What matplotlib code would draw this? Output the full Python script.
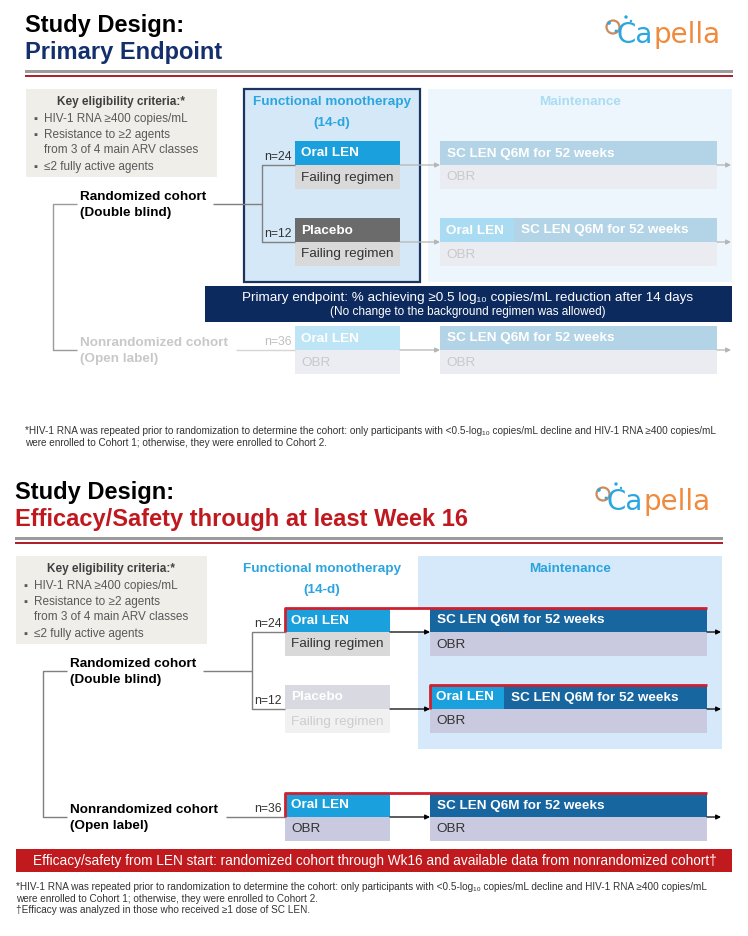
import matplotlib
matplotlib.use('Agg')
import matplotlib.pyplot as plt
from matplotlib.patches import Rectangle, Circle

plt.rcParams['font.family'] = ['Liberation Sans', 'DejaVu Sans']

# ---- content -------------------------------------------------------------
TITLE = 'Study Design:'
SUBTITLES = ['Primary Endpoint', 'Efficacy/Safety through at least Week 16']
CRITERIA_HEAD = 'Key eligibility criteria:*'
CRITERIA = [['HIV-1 RNA ≥400 copies/mL'],
            ['Resistance to ≥2 agents', 'from 3 of 4 main ARV classes'],
            ['≤2 fully active agents']]
COHORTS = [['Randomized cohort', '(Double blind)'],
           ['Nonrandomized cohort', '(Open label)']]
ARM_N = [24, 12, 36]
ARM_DRUG = ['Oral LEN', 'Placebo', 'Oral LEN']
ARM_BACKGROUND = ['Failing regimen', 'Failing regimen', 'OBR']
MAINT_LEAD = [None, 'Oral LEN', None]
MAINT_DRUG = 'SC LEN Q6M for 52 weeks'
MAINT_BACKGROUND = 'OBR'
PHASES = [['Functional monotherapy', '(14-d)'], ['Maintenance']]
ENDPOINT = ['Primary endpoint: % achieving ≥0.5 log₁₀ copies/mL reduction after 14 days',
            '(No change to the background regimen was allowed)']
EFFICACY = 'Efficacy/safety from LEN start: randomized cohort through Wk16 and available data from nonrandomized cohort†'
FOOT_COHORT = ['*HIV-1 RNA was repeated prior to randomization to determine the cohort: only participants with <0.5-log₁₀ copies/mL decline and HIV-1 RNA ≥400 copies/mL',
               'were enrolled to Cohort 1; otherwise, they were enrolled to Cohort 2.']
FOOT_SC = '†Efficacy was analyzed in those who received ≥1 dose of SC LEN.'

fig = plt.figure(figsize=(7.48, 9.36), dpi=100)
ax = fig.add_axes([0, 0, 1, 1])
ax.set_xlim(0, 748)
ax.set_ylim(936, 0)
ax.axis('off')

BLUE = '#1aa0dc'
NAVY = '#14306c'
RED = '#c0181f'
FADE = '#c9c9c9'


def rect(x0, y0, x1, y1, fc, ec='none', lw=0, z=1):
    ax.add_patch(Rectangle((x0, y0), x1 - x0, y1 - y0, facecolor=fc,
                           edgecolor=ec, linewidth=lw, zorder=z))


def label(x, y, s, size=9.7, color='#333333', bold=False, ha='left', va='center', z=5):
    return ax.text(x, y, s, fontsize=size, color=color, ha=ha, va=va, zorder=z,
                   fontweight='bold' if bold else 'normal')


def line(xs, ys, color, lw=1.0, z=2):
    ax.plot(xs, ys, color=color, lw=lw, zorder=z, solid_capstyle='butt')


def arrow(x0, x1, y, color):
    ax.annotate('', xy=(x1, y), xytext=(x0, y), zorder=3,
                arrowprops=dict(arrowstyle='-|>', color=color, lw=0.9,
                                mutation_scale=7, shrinkA=0, shrinkB=0))


def logo(ox, oy):
    ax.add_patch(Circle((613 + ox, 27 + oy), 6.5, fill=False, ec='#c98c60', lw=1.6, zorder=4))
    for cx, cy, r in [(609, 23, 1.8), (616, 31, 1.4), (626, 17, 1.7), (631, 21, 1.2)]:
        ax.add_patch(Circle((cx + ox, cy + oy), r, fc='#2aa7e0', ec='none', zorder=5))
    fig.canvas.draw()
    t = ax.text(617 + ox, 43 + oy, 'Ca', fontsize=20, color='#2aa7e0', family='DejaVu Sans',
                va='baseline', zorder=5)
    x1 = t.get_window_extent().x1
    ax.text(x1, 43 + oy, 'pella', fontsize=20, color='#f08a3c', family='DejaVu Sans',
            va='baseline', zorder=5)


def panel(ox, oy, second):
    # header
    label(25 + ox, 32 + oy, TITLE, size=17, color='black', bold=True, va='baseline')
    label(25 + ox, 59 + oy, SUBTITLES[int(second)], size=17,
          color=RED if second else NAVY, bold=True, va='baseline')
    rect(25 + ox, 69.5 + oy, 733 + ox, 72.5 + oy, '#9b9b9b')
    rect(25 + ox, 74.5 + oy, 733 + ox, 77 + oy, '#b21f2d')
    logo(ox, oy)

    # eligibility
    rect(26 + ox, 89 + oy, 217 + ox, 177 + oy, '#efeee9')
    label(121 + ox, 102 + oy, CRITERIA_HEAD, size=8.5, color='#404040', bold=True, ha='center')
    yy = [119, 135, 167]
    for item, y in zip(CRITERIA, yy):
        label(33 + ox, y + oy, '▪', size=8, color='#595959')
        for k, s in enumerate(item):
            label(44 + ox, y + 15 * k + oy, s, size=8.5, color='#595959')

    # phase backgrounds
    if second:
        rect(428 + ox, 89 + oy, 732 + ox, 282 + oy, '#d5e9fa', z=0.5)
        mcol = '#29a3dd'
    else:
        rect(244 + ox, 89 + oy, 420 + ox, 282 + oy, '#d5e8f8', ec='#1b3560', lw=1.6, z=0.5)
        rect(428 + ox, 89 + oy, 732 + ox, 282 + oy, '#eef6fd', z=0.5)
        mcol = '#aadcf3'
    label(332 + ox, 102 + oy, PHASES[0][0], color='#2aa5df', bold=True, ha='center')
    label(332 + ox, 123 + oy, PHASES[0][1], color='#2aa5df', bold=True, ha='center')
    label(580 + ox, 102 + oy, PHASES[1][0], color=mcol, bold=True, ha='center')

    # cohorts and connectors
    lc = '#7f7f7f'
    label(80 + ox, 197 + oy, COHORTS[0][0], bold=True, color='black')
    label(80 + ox, 213 + oy, COHORTS[0][1], bold=True, color='black')
    ncol = 'black' if second else '#c8c8c8'
    label(80 + ox, 343 + oy, COHORTS[1][0], bold=True, color=ncol)
    label(80 + ox, 359 + oy, COHORTS[1][1], bold=True, color=ncol)
    line([77 + ox, 53 + ox, 53 + ox, 77 + ox], [204 + oy, 204 + oy, 350 + oy, 350 + oy],
         lc if second else '#9a9a9a')
    line([213 + ox, 262 + ox], [204 + oy, 204 + oy], lc)
    line([295 + ox, 262 + ox, 262 + ox, 295 + ox], [165 + oy, 165 + oy, 242 + oy, 242 + oy], lc)
    line([236 + ox, 295 + ox], [350 + oy, 350 + oy], lc if second else '#d5d5d5')

    tops = [141, 218, 326]
    mids = [165, 242, 350]
    bots = [189, 266, 374]
    for i in range(3):
        t, m, b = tops[i] + oy, mids[i] + oy, bots[i] + oy
        if second:
            drug_fc, drug_tc = [(BLUE, 'white'), ('#d9d9e1', 'white'), (BLUE, 'white')][i]
            bg_fc, bg_tc = [('#d9d9d9', '#333333'), ('#f1f1f1', '#cdcdcd'), ('#c9c9e0', '#333333')][i]
            m_fc, m_tc, o_fc, o_tc, lead_fc = '#1766a0', 'white', '#c9c9e0', '#333333', BLUE
            acol, ntc = 'black', '#333333'
        else:
            drug_fc, drug_tc = [(BLUE, 'white'), ('#6b6b6b', 'white'), ('#bde5f6', 'white')][i]
            bg_fc, bg_tc = [('#d9d9d9', '#333333'), ('#d9d9d9', '#333333'), ('#ecedf3', FADE)][i]
            m_fc, m_tc, o_fc, o_tc, lead_fc = '#b3d4e6', 'white', '#ebecf2', FADE, '#a9dcf2'
            acol, ntc = '#b5b5b5', '#333333' if i < 2 else '#c0c0c0'
        label(292 + ox, m - 8, 'n=%d' % ARM_N[i], size=8.8, color=ntc, ha='right')
        rect(295 + ox, t, 400 + ox, m, drug_fc)
        label(301 + ox, (t + m) / 2 + 0.5, ARM_DRUG[i], color=drug_tc, bold=True)
        rect(295 + ox, m, 400 + ox, b, bg_fc)
        label(301 + ox, (m + b) / 2 + 0.5, ARM_BACKGROUND[i], color=bg_tc)
        x = 440
        if MAINT_LEAD[i]:
            rect(440 + ox, t, 514 + ox, m, lead_fc)
            label(446 + ox, (t + m) / 2 + 0.5, MAINT_LEAD[i], color='white', bold=True)
            x = 514
        rect(x + ox, t, 717 + ox, m, m_fc)
        label(x + 7 + ox, (t + m) / 2 + 0.5, MAINT_DRUG, color=m_tc, bold=True)
        rect(440 + ox, m, 717 + ox, b, o_fc)
        label(446 + ox, (m + b) / 2 + 0.5, MAINT_BACKGROUND, color=o_tc)
        arrow(400 + ox, 440 + ox, m, acol)
        arrow(717 + ox, 731 + ox, m, acol)
        if second:
            x0 = 440 if MAINT_LEAD[i] else 295
            if not MAINT_LEAD[i]:
                rect(400 + ox, t, 440 + ox, m - 0.5, 'white', z=1.5)
            line([x0 + ox, x0 + ox, 717 + ox], [m, t, t], '#d0202e', lw=2, z=4)


panel(0, 0, False)
panel(-10, 467, True)

# primary endpoint banner
rect(205, 286, 732, 322, '#0c2a5e')
label(468, 297.5, ENDPOINT[0], size=9.7, color='white', ha='center')
label(468, 312, ENDPOINT[1], size=8.5, color='white', ha='center')

# efficacy banner
rect(16, 849, 732, 872, '#c01a1e')
label(375, 860.5, EFFICACY, size=9.8, color='white', ha='center')

for k, s in enumerate(FOOT_COHORT):
    label(25, 431 + 12 * k, s, size=7.2, color='#333333')
for k, s in enumerate(FOOT_COHORT + [FOOT_SC]):
    label(16, 887 + 11.5 * k, s, size=7.2, color='#333333')

fig.savefig('out.png', dpi=100)
